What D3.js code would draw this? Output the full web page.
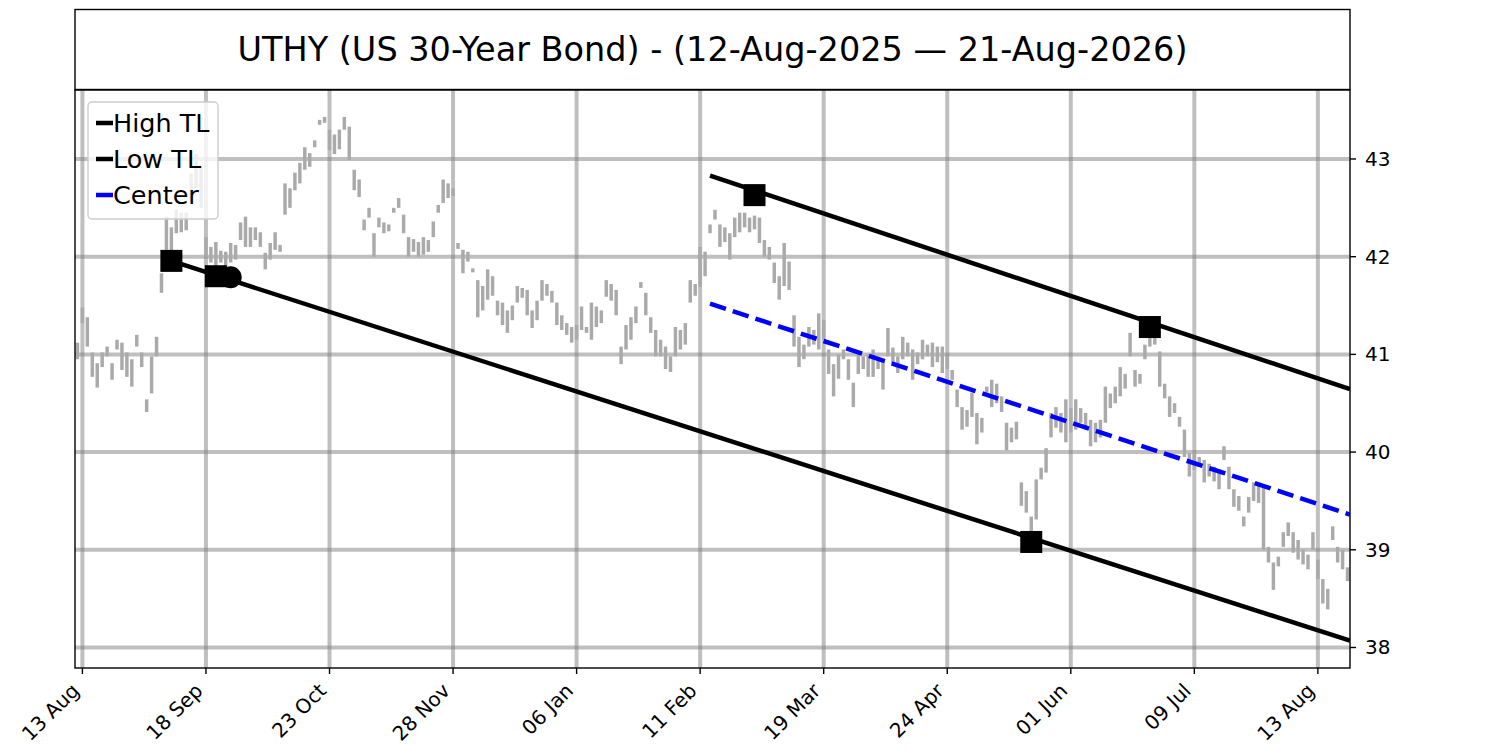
<!DOCTYPE html>
<html>
<head>
<meta charset="utf-8">
<script src="https://cdn.jsdelivr.net/npm/d3@7"></script>
<style>
  body { margin: 0; background: #fff; }
  svg { font-family: "DejaVu Sans", sans-serif; }
</style>
</head>
<body>
<svg id="chart" width="1500" height="750"></svg>
<script>
// daily low / high, one entry per trading day (12-Aug-2025 .. 21-Aug-2026)
const lows = [
  40.95,41.32,41.08,40.77,40.66,40.87,40.98,40.74,41.05,40.84,
  40.77,40.67,41.08,40.87,40.41,40.60,40.98,41.63,42.07,41.96,
  42.24,42.25,42.27,42.55,42.70,42.50,42.00,41.94,41.90,41.94,
  41.90,41.94,41.97,42.17,42.10,42.10,42.17,42.10,41.87,41.97,
  42.07,42.05,42.43,42.50,42.68,42.75,42.89,42.92,43.12,43.35,
  43.37,43.09,43.05,43.10,43.30,42.99,42.68,42.61,42.27,42.40,
  42.00,42.30,42.24,42.26,42.45,42.50,42.24,42.00,42.05,42.00,
  42.02,42.05,42.20,42.45,42.55,42.60,42.62,42.08,41.83,41.95,
  41.84,41.38,41.45,41.56,41.60,41.40,41.30,41.22,41.35,41.53,
  41.58,41.40,41.27,41.35,41.55,41.60,41.53,41.30,41.25,41.20,
  41.12,41.15,41.25,41.22,41.15,41.28,41.32,41.59,41.55,41.40,
  40.90,41.05,41.15,41.32,41.68,41.40,41.22,40.98,40.98,40.85,
  40.82,40.98,41.05,41.10,41.53,41.60,41.69,41.80,42.24,42.38,
  42.10,42.15,41.97,42.20,42.25,42.30,42.25,42.28,42.14,42.00,
  41.97,41.73,41.56,41.70,41.66,41.08,40.87,40.95,41.08,41.10,
  41.05,41.15,40.80,40.57,40.75,40.95,40.74,40.46,40.80,40.85,
  40.77,40.77,40.85,40.64,40.98,40.91,40.81,40.95,40.98,40.74,
  40.90,40.95,40.98,40.87,40.92,40.81,40.85,40.74,40.46,40.23,
  40.26,40.36,40.08,40.20,40.61,40.46,40.50,40.41,40.02,40.10,
  40.13,39.45,39.38,39.18,39.31,39.72,39.79,40.15,40.25,40.20,
  40.10,40.20,40.23,40.30,40.23,40.06,40.10,40.15,40.30,40.45,
  40.50,40.57,40.65,40.98,40.67,40.70,40.95,41.08,41.10,40.67,
  40.55,40.36,40.40,40.26,39.95,39.75,39.82,39.85,39.69,39.75,
  39.70,39.62,39.92,39.62,39.44,39.40,39.24,39.38,39.50,39.48,
  39.00,38.87,38.59,38.83,39.03,39.14,38.97,38.90,38.85,38.80,
  39.00,38.70,38.45,38.39,39.10,38.87,38.80,38.68
];
const highs = [
  41.12,41.48,41.38,41.02,40.91,41.02,41.08,40.91,41.15,41.12,
  41.02,40.95,41.20,41.02,40.54,40.98,41.18,41.83,42.41,42.30,
  42.48,42.45,42.45,42.85,43.05,42.92,42.20,42.10,42.15,42.06,
  42.05,42.14,42.12,42.35,42.41,42.30,42.30,42.25,42.04,42.14,
  42.25,42.12,42.75,42.70,42.86,42.96,43.12,43.06,43.19,43.40,
  43.43,43.30,43.25,43.30,43.43,43.33,42.89,42.79,42.38,42.50,
  42.24,42.40,42.35,42.33,42.50,42.60,42.43,42.20,42.18,42.15,
  42.20,42.17,42.36,42.53,42.79,42.75,42.70,42.14,42.07,42.05,
  41.88,41.76,41.70,41.87,41.80,41.55,41.53,41.45,41.50,41.70,
  41.68,41.66,41.45,41.55,41.76,41.72,41.65,41.53,41.40,41.32,
  41.28,41.30,41.49,41.28,41.53,41.49,41.45,41.76,41.72,41.66,
  41.08,41.30,41.38,41.49,41.74,41.63,41.38,41.25,41.15,41.08,
  40.98,41.28,41.25,41.32,41.76,41.72,42.10,42.05,42.33,42.48,
  42.33,42.30,42.24,42.40,42.45,42.45,42.40,42.42,42.40,42.17,
  42.10,41.94,41.80,42.14,41.95,41.40,41.18,41.10,41.28,41.25,
  41.42,41.35,41.05,40.90,41.00,41.05,40.95,40.71,41.02,40.98,
  41.00,41.05,40.95,40.95,41.27,41.07,40.98,41.18,41.12,41.05,
  41.02,41.15,41.10,41.12,41.08,41.08,40.98,40.84,40.64,40.46,
  40.43,40.61,40.40,40.35,40.67,40.74,40.70,40.57,40.30,40.25,
  40.31,39.69,39.60,39.34,39.72,39.84,40.04,40.40,40.46,40.40,
  40.54,40.45,40.54,40.45,40.40,40.33,40.30,40.33,40.67,40.60,
  40.67,40.87,40.80,41.22,40.84,40.80,41.10,41.22,41.18,41.03,
  40.70,40.57,40.50,40.36,40.23,39.99,39.99,39.95,39.92,39.88,
  39.85,39.82,40.06,39.85,39.62,39.55,39.34,39.54,39.69,39.65,
  39.65,39.03,38.87,38.93,39.18,39.28,39.18,39.10,39.00,38.95,
  39.18,38.90,38.70,38.60,39.24,39.03,39.00,38.82
];

const tickIndex = [1, 26, 51, 76, 101, 126, 151, 176, 201, 226, 251];
const tickLabels = ["13 Aug", "18 Sep", "23 Oct", "28 Nov", "06 Jan", "11 Feb",
                    "19 Mar", "24 Apr", "01 Jun", "09 Jul", "13 Aug"];
const yTicks = [38, 39, 40, 41, 42, 43];

// trend lines as [index, price] end points
const highTL = [[128, 42.83], [257.5, 40.645]];
const lowTL = [[19, 41.957], [257.5, 38.07]];
const centerTL = [[128, 41.52], [257.5, 39.36]];
const squarePts = [[19, 41.957], [28, 41.80], [137, 42.63], [193, 39.08], [217, 41.28]];
const circlePts = [[31, 41.79]];

const legendNames = ["High TL", "Low TL", "Center"];
const legendColors = ["#000000", "#000000", "#0000ff"];
const titleText = "UTHY (US 30-Year Bond) - (12-Aug-2025 \u2014 21-Aug-2026)";

const mLeft = 75, mRight = 1350, mTop = 90, mBottom = 668;
const svg = d3.select("#chart");

const x = d3.scaleLinear().domain([-0.5, lows.length - 0.5]).range([mLeft, mRight]);
const y = d3.scaleLinear().domain([37.79, 43.706]).range([mBottom, mTop]);

// title box
svg.append("rect")
    .attr("x", mLeft).attr("y", 9.5)
    .attr("width", mRight - mLeft).attr("height", 80)
    .attr("fill", "none").attr("stroke", "#000").attr("stroke-width", 1.4);
svg.append("text")
    .attr("x", (mLeft + mRight) / 2).attr("y", 61)
    .attr("text-anchor", "middle")
    .attr("font-size", 33.5)
    .attr("fill", "#000")
    .text(titleText);

const plot = svg.append("g");
plot.append("clipPath").attr("id", "clip")
    .append("rect").attr("x", mLeft).attr("y", mTop)
    .attr("width", mRight - mLeft).attr("height", mBottom - mTop);

// grid
const grid = plot.append("g").attr("stroke", "#808080").attr("stroke-opacity", 0.5).attr("stroke-width", 4);
grid.selectAll("line.v").data(tickIndex).enter().append("line")
    .attr("x1", d => x(d)).attr("x2", d => x(d))
    .attr("y1", mTop).attr("y2", mBottom);
grid.selectAll("line.h").data(yTicks).enter().append("line")
    .attr("x1", mLeft).attr("x2", mRight)
    .attr("y1", d => y(d)).attr("y2", d => y(d));

// price bars
const bw = (x(1) - x(0)) * 0.7;
plot.append("g")
    .selectAll("rect")
    .data(lows)
    .enter()
    .append("rect")
    .attr("x", (d, i) => x(i) - bw / 2)
    .attr("width", bw)
    .attr("y", (d, i) => y(highs[i]))
    .attr("height", (d, i) => Math.max(2, y(d) - y(highs[i])))
    .attr("fill", "#aaaaaa");

// trend lines
const line = d3.line().x(d => x(d[0])).y(d => y(d[1]));
const lines = plot.append("g").attr("clip-path", "url(#clip)").attr("fill", "none");
lines.append("path").attr("d", line(highTL)).attr("stroke", "#000").attr("stroke-width", 4.5);
lines.append("path").attr("d", line(lowTL)).attr("stroke", "#000").attr("stroke-width", 4.5);
lines.append("path").attr("d", line(centerTL)).attr("stroke", "#0000ff")
    .attr("stroke-width", 4.5).attr("stroke-dasharray", "16.7,7.2");

// markers
plot.append("g").selectAll("rect").data(squarePts).enter().append("rect")
    .attr("x", d => x(d[0]) - 11).attr("y", d => y(d[1]) - 11)
    .attr("width", 22).attr("height", 22).attr("fill", "#000");
plot.append("g").selectAll("circle").data(circlePts).enter().append("circle")
    .attr("cx", d => x(d[0])).attr("cy", d => y(d[1])).attr("r", 11).attr("fill", "#000");

// spines
svg.append("rect")
    .attr("x", mLeft).attr("y", mTop)
    .attr("width", mRight - mLeft).attr("height", mBottom - mTop)
    .attr("fill", "none").attr("stroke", "#000").attr("stroke-width", 1.4);

// x axis ticks + labels
const xt = svg.append("g");
xt.selectAll("line").data(tickIndex).enter().append("line")
    .attr("x1", d => x(d)).attr("x2", d => x(d))
    .attr("y1", mBottom).attr("y2", mBottom + 6)
    .attr("stroke", "#000").attr("stroke-width", 1.4);
xt.selectAll("text").data(tickIndex).enter().append("text")
    .attr("transform", d => `translate(${x(d) - 7},${mBottom + 19}) rotate(-45)`)
    .attr("text-anchor", "end")
    .attr("dominant-baseline", "central")
    .attr("font-size", 20)
    .text((d, i) => tickLabels[i]);

// y axis on the right
const yt = svg.append("g");
yt.selectAll("line").data(yTicks).enter().append("line")
    .attr("x1", mRight).attr("x2", mRight + 6)
    .attr("y1", d => y(d)).attr("y2", d => y(d))
    .attr("stroke", "#000").attr("stroke-width", 1.4);
yt.selectAll("text").data(yTicks).enter().append("text")
    .attr("x", mRight + 15).attr("y", d => y(d))
    .attr("dominant-baseline", "central")
    .attr("font-size", 20)
    .text(d => d);

// legend
const lg = svg.append("g").attr("transform", "translate(88,102)");
lg.append("rect")
    .attr("width", 130).attr("height", 117).attr("rx", 4)
    .attr("fill", "#fff").attr("fill-opacity", 0.8)
    .attr("stroke", "#cccccc").attr("stroke-width", 1.4);
const items = lg.selectAll("g").data(legendNames).enter().append("g")
    .attr("transform", (d, i) => `translate(0,${21 + i * 36})`);
items.append("line")
    .attr("x1", 8).attr("x2", 25).attr("y1", 0).attr("y2", 0)
    .attr("stroke", (d, i) => legendColors[i]).attr("stroke-width", 4.5);
items.append("text")
    .attr("x", 25).attr("y", 0)
    .attr("dominant-baseline", "central")
    .attr("font-size", 25.5)
    .text(d => d);
</script>
</body>
</html>
